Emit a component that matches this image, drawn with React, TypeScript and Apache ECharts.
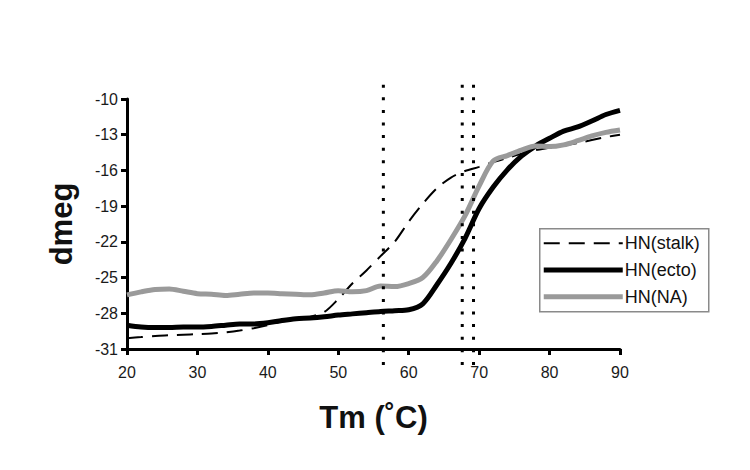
import React, { useEffect, useRef } from "react";
import * as echarts from "echarts";

const temps = [20, 22, 24, 26, 28, 30, 32, 34, 36, 38, 40, 42, 44, 46, 48, 50, 52, 54, 56, 58, 60, 62, 64, 66, 68, 70, 72, 74, 76, 78, 80, 82, 84, 86, 88, 90];

const stalk = [-30.1, -30.0, -29.9, -29.85, -29.8, -29.75, -29.7, -29.6, -29.45, -29.25, -29.0, -28.7, -28.5, -28.3, -27.9, -26.8, -25.5, -24.4, -23.2, -22.0, -20.3, -18.8, -17.5, -16.6, -16.05, -15.7, -15.3, -14.95, -14.6, -14.3, -14.1, -13.9, -13.7, -13.45, -13.2, -13.0];

const ecto = [-29.0, -29.15, -29.2, -29.2, -29.15, -29.15, -29.1, -29.0, -28.9, -28.9, -28.8, -28.6, -28.45, -28.4, -28.3, -28.15, -28.05, -27.95, -27.85, -27.78, -27.7, -27.2, -25.6, -23.8, -21.7, -19.2, -17.4, -15.95, -14.8, -13.95, -13.3, -12.7, -12.35, -11.85, -11.3, -10.95];

const na = [-26.45, -26.2, -26.0, -25.95, -26.15, -26.35, -26.4, -26.5, -26.4, -26.3, -26.3, -26.35, -26.4, -26.45, -26.3, -26.1, -26.2, -26.1, -25.7, -25.75, -25.5, -25.0, -23.6, -21.8, -19.8, -17.3, -15.2, -14.75, -14.3, -13.95, -14.0, -13.85, -13.5, -13.1, -12.8, -12.6];

const markers = [56.4, 67.6, 69.2];
const markerSpan = [-8.8, -33.1];

const seriesNames = ["HN(stalk)", "HN(ecto)", "HN(NA)"];

const yMin = -31;
const yMax = -10;
const yStep = 3;
const xMin = 20;
const xMax = 90;
const xStep = 10;

const FONT = "Liberation Sans, Arial, Helvetica, sans-serif";

const STYLES = [
  { color: "#000", width: 2, dash: [16, 9] as number[] | null },
  { color: "#000", width: 5, dash: null },
  { color: "#9a9a9a", width: 5, dash: null },
];

export default function App() {
  const ref = useRef<HTMLDivElement>(null);
  useEffect(() => {
    document.body.style.margin = "0";
    if (!ref.current) return;
    const chart = echarts.init(ref.current, undefined, { renderer: "svg" });
    const shift = (v: number) => v - yMin;
    const toData = (vals: number[]) => temps.map((t, i) => [t, shift(vals[i])]);
    const markerSeries = markers.map((m) => ({
      type: "line",
      name: "marker",
      data: [
        [m, shift(markerSpan[0])],
        [m, shift(markerSpan[1])],
      ],
      symbol: "none",
      clip: false,
      silent: true,
      lineStyle: { color: "#000", width: 3, type: [3, 9.6], cap: "butt" },
      z: 5,
    }));
    const values = [stalk, ecto, na];
    const lineSeries = seriesNames.map((name, i) => ({
      type: "line",
      name,
      data: toData(values[i]),
      symbol: "none",
      smooth: 0.3,
      color: STYLES[i].color,
      lineStyle: {
        color: STYLES[i].color,
        width: STYLES[i].width,
        type: STYLES[i].dash || "solid",
      },
      z: i === 1 ? 2 : i === 0 ? 3 : 4,
    }));

    // legend drawn as graphic
    const lgLeft = 539;
    const lgTop = 228;
    const rowGap = 26.8;
    const firstRow = 14.5;
    const legendChildren: any[] = [
      {
        type: "rect",
        shape: { x: 0, y: 0, width: 169, height: 83 },
        style: { fill: "#fff", stroke: "#8a8a8a", lineWidth: 1.5 },
      },
    ];
    seriesNames.forEach((name, i) => {
      const y = firstRow + i * rowGap;
      legendChildren.push({
        type: "line",
        shape: { x1: 4, y1: y, x2: 83, y2: y },
        style: {
          stroke: STYLES[i].color,
          lineWidth: STYLES[i].width,
          lineDash: STYLES[i].dash || undefined,
        },
      });
      legendChildren.push({
        type: "text",
        x: 85,
        y,
        style: {
          text: name,
          font: `18px ${FONT}`,
          fill: "#111",
          verticalAlign: "middle",
          align: "left",
        },
      });
    });

    chart.setOption({
      animation: false,
      grid: { left: 127, right: 130, top: 99, bottom: 121 },
      xAxis: {
        type: "value",
        min: xMin,
        max: xMax,
        interval: xStep,
        name: "Tm (˚C)",
        nameLocation: "middle",
        nameGap: 53,
        nameTextStyle: { fontFamily: FONT, fontSize: 31, fontWeight: "bold", color: "#111" },
        axisLine: { lineStyle: { color: "#000", width: 3 } },
        axisTick: { length: 6, lineStyle: { color: "#000", width: 3 } },
        axisLabel: { fontFamily: FONT, fontSize: 16, color: "#1a1a1a", margin: 15 },
        splitLine: { show: false },
      },
      yAxis: {
        type: "value",
        min: 0,
        max: yMax - yMin,
        interval: yStep,
        name: "dmeg",
        nameLocation: "middle",
        nameGap: 50,
        nameTextStyle: { fontFamily: FONT, fontSize: 31, fontWeight: "bold", color: "#111" },
        axisLine: { lineStyle: { color: "#000", width: 3 } },
        axisTick: { length: 6, lineStyle: { color: "#000", width: 3 } },
        axisLabel: {
          fontFamily: FONT,
          fontSize: 16,
          color: "#1a1a1a",
          margin: 9,
          formatter: (v: number) => String(v + yMin),
        },
        splitLine: { show: false },
      },
      graphic: [
        {
          type: "group",
          left: lgLeft,
          top: lgTop,
          z: 100,
          children: legendChildren,
        },
      ],
      series: [...lineSeries, ...markerSeries],
    });
    return () => chart.dispose();
  }, []);
  return <div ref={ref} style={{ width: 750, height: 470, background: "#fff" }} />;
}
